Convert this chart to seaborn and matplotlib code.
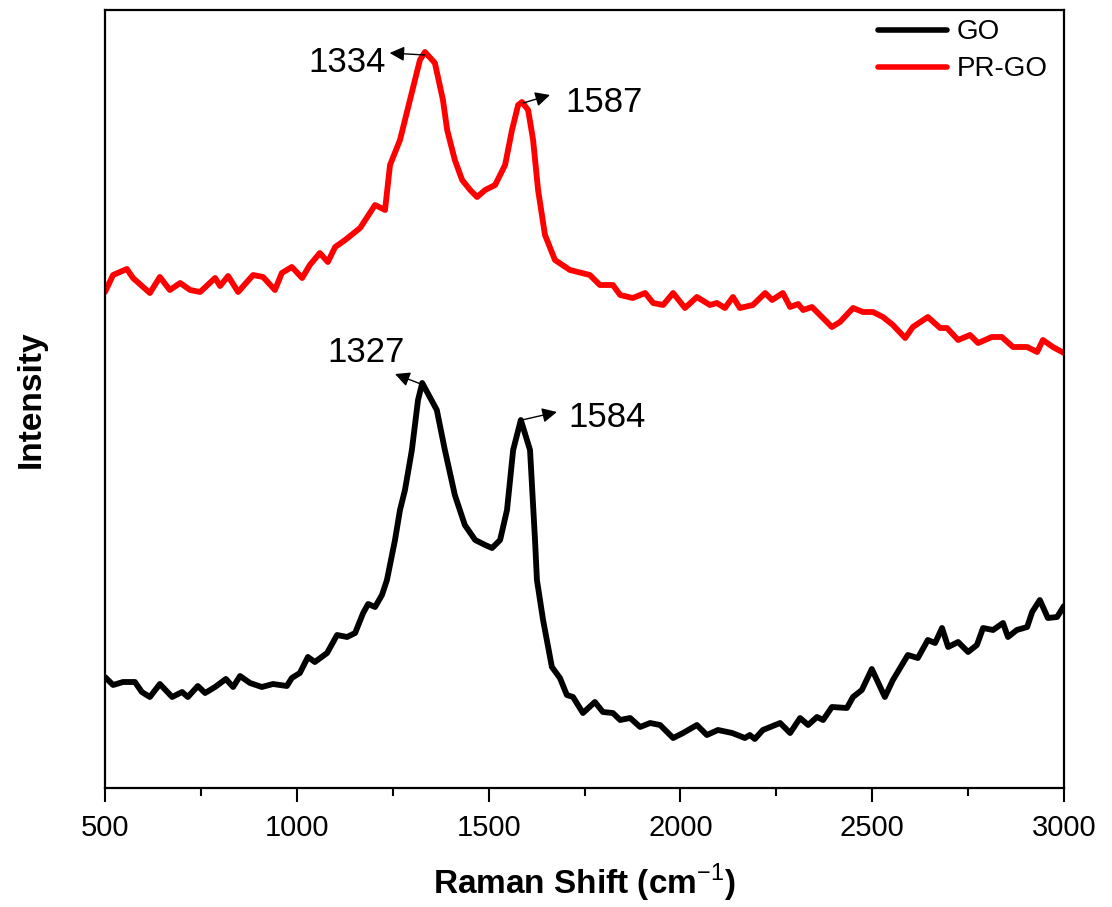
import numpy as np
import pandas as pd
import matplotlib
matplotlib.use("Agg")
import matplotlib.pyplot as plt
from matplotlib.ticker import MultipleLocator
import seaborn as sns

# Raman spectra (arbitrary intensity units)
go_shift = [500, 521, 547, 578, 596, 617, 643, 675, 701, 716, 742, 761, 787, 815, 834, 852,
            878, 909, 938, 974, 987, 1008, 1029, 1047, 1079, 1105, 1131, 1152, 1173, 1186,
            1204, 1222, 1235, 1256, 1269, 1282, 1300, 1316, 1327, 1365, 1386, 1412, 1438,
            1465, 1491, 1509, 1530, 1548, 1564, 1584, 1608, 1621, 1626, 1642, 1665, 1686,
            1704, 1720, 1746, 1777, 1798, 1824, 1843, 1869, 1895, 1921, 1947, 1981, 2007,
            2043, 2069, 2098, 2135, 2168, 2181, 2194, 2215, 2260, 2286, 2312, 2333, 2356,
            2372, 2395, 2434, 2450, 2473, 2499, 2533, 2554, 2593, 2619, 2645, 2664, 2682,
            2698, 2724, 2750, 2773, 2789, 2815, 2841, 2854, 2877, 2904, 2917, 2937, 2958,
            2982, 3000]
go_intensity = [111, 103, 106, 106, 96, 91, 104, 91, 96, 91, 102, 95, 101, 109, 101, 112,
                105, 101, 104, 102, 110, 115, 131, 126, 135, 153, 151, 155, 175, 184,
                181, 193, 208, 248, 278, 298, 338, 388, 405, 378, 338, 293, 263,
                248, 243, 240, 248, 278, 338, 368, 338, 248, 208, 168, 121, 110,
                93, 91, 75, 86, 76, 75, 68, 70, 61, 65, 63, 50, 55,
                63, 53, 58, 55, 50, 53, 49, 58, 65, 55, 70, 63, 71,
                68, 81, 80, 91, 98, 119, 91, 108, 133, 130, 148, 145, 160,
                141, 146, 136, 143, 160, 158, 165, 151, 158, 161, 176, 188, 170,
                171, 182]

prgo_shift = [500, 521, 557, 573, 617, 643, 669, 696, 722, 748, 787, 800, 821, 847, 886,
              912, 943, 961, 987, 1014, 1034, 1060, 1081, 1100, 1126, 1165, 1204, 1230,
              1243, 1269, 1295, 1321, 1334, 1360, 1381, 1392, 1412, 1431, 1452, 1470,
              1491, 1517, 1543, 1561, 1577, 1587, 1603, 1616, 1629, 1647, 1673, 1712,
              1764, 1790, 1824, 1843, 1876, 1908, 1929, 1955, 1981, 2012, 2043, 2077,
              2095, 2116, 2137, 2155, 2189, 2221, 2239, 2267, 2286, 2307, 2320, 2343,
              2369, 2395, 2416, 2450, 2476, 2502, 2528, 2554, 2586, 2606, 2645, 2677,
              2695, 2724, 2755, 2776, 2812, 2838, 2867, 2904, 2930, 2945, 2971, 3000]
prgo_intensity = [496, 513, 519, 510, 495, 511, 498, 505, 498, 496, 510, 502, 512, 496, 513,
                  511, 498, 515, 521, 510, 523, 535, 526, 541, 548, 560, 583, 578,
                  623, 648, 688, 728, 736, 725, 688, 658, 628, 608, 598, 591,
                  598, 603, 623, 658, 683, 686, 678, 648, 598, 553, 528, 518,
                  513, 503, 503, 493, 490, 495, 485, 483, 495, 480, 491, 483,
                  485, 480, 491, 480, 483, 495, 488, 495, 481, 484, 478, 481,
                  471, 461, 466, 480, 476, 476, 471, 463, 450, 461, 471, 460,
                  460, 448, 453, 445, 451, 451, 441, 441, 436, 448, 441, 435]

go_peaks = [1327, 1584]
prgo_peaks = [1334, 1587]

series_names = ["GO", "PR-GO"]
series_colors = ["#000000", "#FF0000"]

sns.set_style("ticks")
plt.rcParams["font.family"] = ["Liberation Sans", "DejaVu Sans"]
plt.rcParams["mathtext.fontset"] = "custom"
plt.rcParams["mathtext.rm"] = "Liberation Sans"
plt.rcParams["mathtext.bf"] = "Liberation Sans:bold"
plt.rcParams["text.color"] = "black"
plt.rcParams["axes.labelcolor"] = "black"
plt.rcParams["xtick.color"] = "black"
plt.rcParams["xtick.labelcolor"] = "black"
plt.rcParams["lines.solid_joinstyle"] = "round"

fig = plt.figure(figsize=(11.12, 9.07), dpi=100)
ax = fig.add_axes([105 / 1112, 1 - 788 / 907, (1064 - 105) / 1112, (788 - 10) / 907])

df_go = pd.DataFrame({"shift": go_shift, "intensity": go_intensity})
df_pr = pd.DataFrame({"shift": prgo_shift, "intensity": prgo_intensity})

sns.lineplot(data=df_go, x="shift", y="intensity", ax=ax, color=series_colors[0],
             lw=4.2, label=series_names[0], sort=False, estimator=None)
sns.lineplot(data=df_pr, x="shift", y="intensity", ax=ax, color=series_colors[1],
             lw=4.2, label=series_names[1], sort=False, estimator=None)

ax.set_xlim(500, 3000)
ax.set_ylim(0, 778)
ax.xaxis.set_major_locator(MultipleLocator(500))
ax.xaxis.set_minor_locator(MultipleLocator(250))
ax.set_yticks([])
ax.tick_params(axis="x", which="major", direction="out", length=10, width=1.5,
               labelsize=21, pad=9, color="black", labelcolor="black")
ax.tick_params(axis="x", which="minor", direction="out", length=6, width=1.5, color="black")
for sp in ax.spines.values():
    sp.set_visible(True)
    sp.set_linewidth(1.6)
    sp.set_color("black")

ax.set_xlabel(r"Raman Shift (cm$^{-1}$)", fontsize=24, fontweight="bold", labelpad=14,
              color="black")
ax.set_ylabel("Intensity", fontsize=24, fontweight="bold", labelpad=42, color="black")


def peak_height(xs, ys, peak):
    return ys[xs.index(peak)]


arrow_kw = dict(arrowstyle="-|>", color="black", lw=1.0, mutation_scale=22,
                shrinkA=0, shrinkB=0)

# PR-GO peaks
p = prgo_peaks[0]
h = peak_height(prgo_shift, prgo_intensity, p)
ax.annotate("", xy=(p - 92, h - 1), xytext=(p, h - 3), arrowprops=arrow_kw)
ax.text(p - 101, h - 10, str(p), fontsize=25, ha="right", va="center", color="black")

p = prgo_peaks[1]
h = peak_height(prgo_shift, prgo_intensity, p)
ax.annotate("", xy=(p + 73, h + 7), xytext=(p + 3, h - 1), arrowprops=arrow_kw)
ax.text(p + 112, h, str(p), fontsize=25, ha="left", va="center", color="black")

# GO peaks
p = go_peaks[0]
h = peak_height(go_shift, go_intensity, p)
ax.annotate("", xy=(p - 71, h + 9), xytext=(p + 3, h - 2), arrowprops=arrow_kw)
ax.text(p - 146, h + 31, str(p), fontsize=25, ha="center", va="center", color="black")

p = go_peaks[1]
h = peak_height(go_shift, go_intensity, p)
ax.annotate("", xy=(p + 94, h + 8), xytext=(p + 3, h), arrowprops=arrow_kw)
ax.text(p + 123, h + 3, str(p), fontsize=25, ha="left", va="center", color="black")

leg = ax.legend(loc="upper left", bbox_to_anchor=(0.806, 0.988), frameon=False,
                fontsize=20, handlelength=2.5, handletextpad=0.35, labelspacing=0.4,
                borderaxespad=0, borderpad=0)
for line in leg.get_lines():
    line.set_linewidth(4.0)
for t in leg.get_texts():
    t.set_color("black")

fig.savefig("out.png", dpi=100)
